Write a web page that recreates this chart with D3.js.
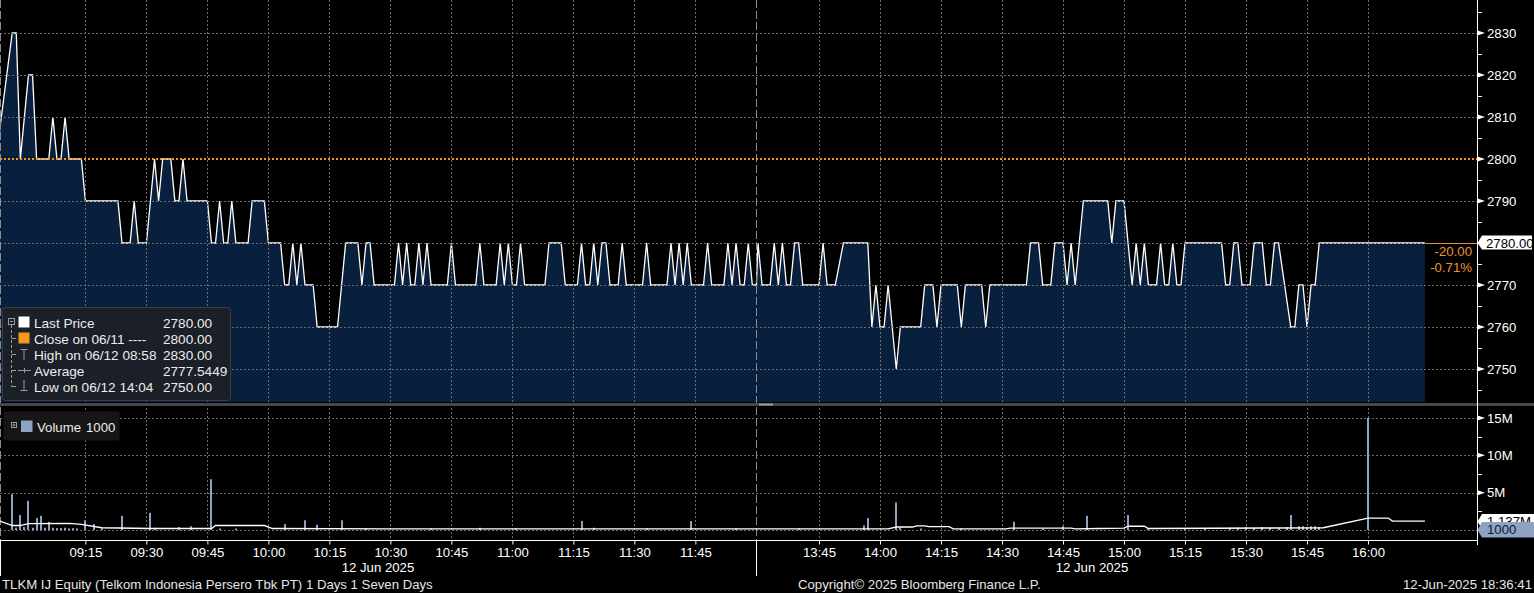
<!DOCTYPE html>
<html><head><meta charset="utf-8">
<script src="https://cdn.jsdelivr.net/npm/d3@7"></script>
<style>html,body{margin:0;padding:0;background:#000;overflow:hidden}svg{display:block}</style>
</head><body><script>
// ---------------- DATA ----------------
const priceTimes = ["08:53","08:57","08:58","08:59","09:01","09:02","09:03","09:06","09:07","09:08","09:09","09:10","09:11","09:14","09:15","09:23","09:24","09:26","09:27","09:28","09:30","09:32","09:33","09:34","09:36","09:37","09:38","09:39","09:40","09:45","09:46","09:47","09:48","09:49","09:50","09:51","09:52","09:55","09:56","09:59","10:00","10:03","10:04","10:05","10:06","10:07","10:08","10:09","10:11","10:12","10:17","10:19","10:22","10:23","10:24","10:25","10:26","10:31","10:32","10:33","10:34","10:35","10:36","10:37","10:38","10:39","10:40","10:44","10:45","10:46","10:51","10:52","10:53","10:56","10:57","10:58","10:59","11:00","11:01","11:02","11:03","11:08","11:09","11:12","11:13","11:16","11:17","11:18","11:19","11:20","11:21","11:22","11:23","11:24","11:26","11:27","11:28","11:32","11:33","11:34","11:38","11:39","11:40","11:41","11:42","11:43","11:44","11:47","11:48","11:49","11:52","11:53","11:54","11:55","11:56","11:57","11:58","11:59","12:00","13:30","13:31","13:33","13:34","13:35","13:36","13:37","13:38","13:39","13:40","13:41","13:45","13:46","13:47","13:49","13:51","13:57","13:58","13:59","14:00","14:01","14:02","14:04","14:05","14:10","14:11","14:13","14:14","14:15","14:19","14:20","14:21","14:25","14:26","14:27","14:36","14:37","14:39","14:40","14:42","14:43","14:45","14:46","14:47","14:48","14:50","14:56","14:57","14:58","15:00","15:02","15:03","15:04","15:05","15:06","15:08","15:09","15:10","15:11","15:12","15:13","15:14","15:15","15:24","15:25","15:26","15:27","15:28","15:29","15:31","15:32","15:34","15:35","15:36","15:37","15:38","15:41","15:42","15:43","15:44","15:45","15:46","15:47","15:48","16:14"];
const priceValues = [2800,2830,2830,2800,2820,2820,2800,2800,2810,2800,2800,2810,2800,2800,2790,2790,2780,2780,2790,2780,2780,2800,2790,2800,2800,2790,2790,2800,2790,2790,2780,2780,2790,2780,2780,2790,2780,2780,2790,2790,2780,2780,2770,2770,2780,2770,2780,2770,2770,2760,2760,2780,2780,2770,2780,2780,2770,2770,2780,2770,2780,2770,2770,2780,2770,2780,2770,2770,2780,2770,2770,2780,2770,2770,2780,2770,2780,2770,2770,2780,2770,2770,2780,2780,2770,2770,2780,2770,2770,2780,2770,2780,2780,2770,2770,2780,2770,2770,2780,2770,2770,2780,2770,2780,2770,2780,2770,2770,2780,2770,2770,2780,2770,2780,2770,2770,2780,2770,2770,2780,2770,2770,2780,2770,2780,2770,2770,2780,2780,2770,2770,2780,2770,2770,2780,2780,2760,2770,2760,2760,2770,2750,2760,2760,2770,2770,2760,2770,2770,2760,2770,2770,2760,2770,2770,2780,2780,2770,2770,2780,2780,2770,2780,2770,2790,2790,2780,2790,2790,2770,2780,2770,2780,2770,2770,2780,2770,2770,2780,2770,2770,2780,2780,2770,2770,2780,2780,2770,2770,2780,2780,2770,2770,2780,2780,2760,2760,2770,2770,2760,2770,2770,2780,2780];

const volTimes = ["08:57","08:58","08:59","09:00","09:01","09:02","09:03","09:04","09:05","09:06","09:07","09:08","09:09","09:10","09:11","09:12","09:13","09:15","09:17","09:19","09:24","09:31","09:32","09:38","09:41","09:46","09:48","09:52","10:04","10:09","10:12","10:18","10:24","10:40","10:52","11:01","11:17","11:20","11:33","11:44","11:55","13:40","13:56","13:57","14:04","14:05","14:10","14:20","14:33","14:40","14:45","14:51","15:01","15:06","15:15","15:20","15:26","15:28","15:30","15:32","15:34","15:36","15:38","15:40","15:41","15:43","15:44","15:45","15:46","15:47","15:48","16:00"];
const volValues = [4.8e6,0.3e6,2.0e6,0.4e6,3.9e6,0.3e6,1.6e6,1.9e6,0.3e6,1.1e6,0.3e6,0.25e6,0.25e6,0.3e6,0.2e6,0.25e6,0.2e6,1.3e6,0.8e6,0.2e6,1.9e6,2.3e6,0.3e6,0.4e6,0.5e6,6.8e6,0.2e6,0.2e6,0.8e6,1.3e6,0.7e6,1.3e6,0.2e6,0.2e6,0.3e6,0.2e6,1.2e6,0.3e6,0.2e6,1.2e6,0.2e6,0.2e6,0.6e6,1.6e6,3.7e6,0.3e6,0.2e6,0.2e6,1.1e6,0.2e6,0.5e6,1.9e6,2.0e6,0.2e6,0.2e6,0.2e6,0.3e6,0.3e6,0.4e6,0.3e6,0.4e6,0.3e6,0.3e6,0.4e6,2.0e6,0.5e6,0.5e6,0.4e6,0.5e6,0.5e6,0.4e6,15.0e6];

const avgTimes = ["08:54","08:57","08:59","09:01","09:11","09:14","09:19","09:31","09:46","09:47","09:59","10:01","10:30","12:00","13:30","14:02","14:04","14:08","14:09","14:11","14:12","14:17","14:18","14:31","14:32","14:47","14:48","14:54","15:00","15:01","15:05","15:06","15:49","16:00","16:05","16:06","16:14"];
const avgValues = [1.2e6,0.6e6,0.6e6,0.85e6,0.9e6,0.75e6,0.3e6,0.2e6,0.2e6,0.6e6,0.6e6,0.2e6,0.15e6,0.15e6,0.15e6,0.15e6,0.4e6,0.4e6,0.55e6,0.55e6,0.45e6,0.45e6,0.15e6,0.15e6,0.25e6,0.25e6,0.15e6,0.2e6,0.25e6,0.5e6,0.5e6,0.2e6,0.3e6,1.6e6,1.6e6,1.2e6,1.2e6];

const tickTimes = ["09:15","09:30","09:45","10:00","10:15","10:30","10:45","11:00","11:15","11:30","11:45","13:45","14:00","14:15","14:30","14:45","15:00","15:15","15:30","15:45","16:00"];
const priceTicks = [2750,2760,2770,2790,2800,2810,2820,2830];
const priceGrid = [2750,2760,2770,2780,2790,2800,2810,2820,2830];
const priceMinor = [2745,2755,2765,2775,2785,2795,2805,2815,2825,2835];
const volTicks = [5e6,10e6,15e6];
const volTickLabels = ["5M","10M","15M"];
const volGrid = [0,5e6,10e6,15e6];
const volMinor = [2.5e6,7.5e6,12.5e6];
const prevClose = 2800;
const lastPrice = 2780;
const lastAvgVolume = 1.137e6;
const lastVolume = 1000;
const legendLabels = ["Last Price","Close on 06/11 ----","High on 06/12 08:58","Average","Low on 06/12 14:04"];
const legendValues = ["2780.00","2800.00","2830.00","2777.5449","2750.00"];

// ---------------- CHART ----------------
const W = 1534, H = 593, R = 1477;
const FONT = "'Liberation Sans', Arial, sans-serif";
const FS = 13.2, LFS = 13.6;
const toMin = s => { const [h, m] = s.split(":").map(Number); return h * 60 + m; };
const K = 61 / 15;
const x = d3.scaleLinear()
  .domain([toMin("08:54"), toMin("12:00"), toMin("13:30"), toMin("16:14")])
  .range([0, 186 * K, 758, 758 + 164 * K]);
const yP = d3.scaleLinear().domain([2750, 2830]).range([369, 33]);
const yV = d3.scaleLinear().domain([0, 15e6]).range([530, 418]);
const fmt2 = v => d3.format(".2f")(v).replace("\u2212", "-");

const svg = d3.select("body").append("svg").attr("width", W).attr("height", H)
  .style("font-family", FONT);
svg.append("rect").attr("width", W).attr("height", H).attr("fill", "#000");
const defs = svg.append("defs");
defs.append("clipPath").attr("id", "cp").append("rect").attr("x", 0).attr("y", 0).attr("width", R).attr("height", 402);
defs.append("clipPath").attr("id", "cv").append("rect").attr("x", 0).attr("y", 406).attr("width", R).attr("height", 134);
defs.append("clipPath").attr("id", "cl").append("rect").attr("x", R).attr("y", 500).attr("width", 60).attr("height", 22);

const pts = priceTimes.map((t, i) => ({ t: toMin(t), v: priceValues[i] }));
const gP = svg.append("g").attr("clip-path", "url(#cp)");
gP.append("path").datum(pts)
  .attr("d", d3.area().x(d => x(d.t)).y0(402).y1(d => yP(d.v)))
  .attr("fill", "#081f3e");

const GRID = "#6c6c6c";
const gridG = svg.append("g").attr("stroke", GRID).attr("stroke-width", 1).attr("stroke-dasharray", "2,2").attr("shape-rendering", "crispEdges");
priceGrid.filter(v => v !== prevClose).forEach(v => {
  const yy = Math.round(yP(v)) + 0.5;
  gridG.append("line").attr("x1", 0).attr("x2", R).attr("y1", yy).attr("y2", yy);
});
volGrid.forEach(v => {
  const yy = Math.round(yV(v)) + 0.5;
  gridG.append("line").attr("x1", 0).attr("x2", R).attr("y1", yy).attr("y2", yy);
});
tickTimes.forEach(t => {
  const xx = Math.round(x(toMin(t))) + 0.5;
  gridG.append("line").attr("x1", xx).attr("x2", xx).attr("y1", 0).attr("y2", 540);
});
[Math.round(x(toMin("12:00"))) + 0.5, 0.5].forEach(xx => {
  svg.append("line").attr("x1", xx).attr("x2", xx).attr("y1", 0).attr("y2", 540)
    .attr("stroke", "#8c8c8c").attr("stroke-dasharray", "8,3").attr("shape-rendering", "crispEdges");
});

svg.append("line").attr("x1", 0).attr("x2", R).attr("y1", yP(prevClose)).attr("y2", yP(prevClose))
  .attr("stroke", "#f7941d").attr("stroke-width", 2).attr("stroke-dasharray", "2,2");

gP.append("path").datum(pts)
  .attr("d", d3.line().x(d => x(d.t)).y(d => yP(d.v)))
  .attr("fill", "none").attr("stroke", "#ffffff").attr("stroke-width", 1.3);

const lastX = x(toMin(priceTimes[priceTimes.length - 1]));
svg.append("line").attr("x1", lastX).attr("x2", R).attr("y1", Math.round(yP(lastPrice)) + 0.5).attr("y2", Math.round(yP(lastPrice)) + 0.5)
  .attr("stroke", "#e8922c").attr("stroke-width", 1);

const gV = svg.append("g").attr("clip-path", "url(#cv)");
gV.selectAll("rect.vb").data(volTimes.map((t, i) => ({ t: toMin(t), v: volValues[i] }))).enter()
  .append("rect").attr("class", "vb")
  .attr("x", d => Math.round(x(d.t)) - 1).attr("width", 2)
  .attr("y", d => yV(d.v)).attr("height", d => yV(0) - yV(d.v))
  .attr("fill", "#8ea2c2");
gV.append("path").datum(avgTimes.map((t, i) => ({ t: toMin(t), v: avgValues[i] })))
  .attr("d", d3.line().x(d => x(d.t)).y(d => yV(d.v)))
  .attr("fill", "none").attr("stroke", "#ffffff").attr("stroke-width", 1.3);

svg.append("rect").attr("x", 0).attr("y", 403).attr("width", W).attr("height", 3).attr("fill", "#474747");
svg.append("rect").attr("x", 759).attr("y", 403.5).attr("width", 14).attr("height", 2).attr("fill", "#9a9a9a");

svg.append("line").attr("x1", R + 0.5).attr("x2", R + 0.5).attr("y1", 0).attr("y2", 545).attr("stroke", "#fff").attr("shape-rendering", "crispEdges");

function styleAxis(g) {
  g.select(".domain").remove();
  g.selectAll("text").attr("fill", "#fff").attr("font-size", FS).attr("font-family", FONT);
  g.selectAll("line").attr("stroke", "#fff");
}
const ayP = svg.append("g").attr("transform", `translate(${R},0)`)
  .call(d3.axisRight(yP).tickValues(priceTicks).tickSize(0).tickPadding(10).tickFormat(d3.format("d")));
styleAxis(ayP);
priceTicks.forEach(v => {
  const yy = yP(v);
  svg.append("path").attr("d", `M${R + 0.5},${yy - 2.5}L${R + 8},${yy}L${R + 0.5},${yy + 2.5}Z`).attr("fill", "#fff");
});
priceMinor.forEach(v => {
  const yy = Math.round(yP(v)) + 0.5;
  svg.append("line").attr("x1", R).attr("x2", R + 5).attr("y1", yy).attr("y2", yy).attr("stroke", "#fff").attr("shape-rendering", "crispEdges");
});
const ayV = svg.append("g").attr("transform", `translate(${R},0)`)
  .call(d3.axisRight(yV).tickValues(volTicks).tickSize(0).tickPadding(10).tickFormat((d, i) => volTickLabels[i]));
styleAxis(ayV);
volTicks.forEach(v => {
  const yy = yV(v);
  svg.append("path").attr("d", `M${R + 0.5},${yy - 2.5}L${R + 8},${yy}L${R + 0.5},${yy + 2.5}Z`).attr("fill", "#fff");
});
volMinor.forEach(v => {
  const yy = Math.round(yV(v)) + 0.5;
  svg.append("line").attr("x1", R).attr("x2", R + 5).attr("y1", yy).attr("y2", yy).attr("stroke", "#fff").attr("shape-rendering", "crispEdges");
});

{
  const yy = yP(lastPrice);
  svg.append("path").attr("d", `M${R + 0.5},${yy}L${R + 5},${yy - 7.5}L1532,${yy - 7.5}L1532,${yy + 6.5}L${R + 5},${yy + 6.5}Z`).attr("fill", "#fff");
  svg.append("text").attr("x", 1486).attr("y", yy + 4.5).attr("font-size", FS).attr("fill", "#000").text(fmt2(lastPrice));
  svg.append("text").attr("x", 1472).attr("y", 256).attr("text-anchor", "end").attr("font-size", FS).attr("fill", "#f0922b")
    .text(fmt2(lastPrice - prevClose));
  svg.append("text").attr("x", 1472).attr("y", 272).attr("text-anchor", "end").attr("font-size", FS).attr("fill", "#f0922b")
    .text(fmt2((lastPrice - prevClose) / prevClose * 100) + "%");
}
{
  const ya = yV(lastAvgVolume);
  svg.append("path").attr("d", `M${R + 0.5},${ya}L${R + 5},${ya - 7.5}L${W},${ya - 7.5}L${W},${ya + 7.5}L${R + 5},${ya + 7.5}Z`).attr("fill", "#fff");
  svg.append("text").attr("x", 1487).attr("y", ya + 4.5).attr("font-size", FS).attr("fill", "#000")
    .attr("clip-path", "url(#cl)").text(d3.format(".4s")(lastAvgVolume).replace(/0+M$/, "M"));
  const yl = yV(lastVolume);
  svg.append("path").attr("d", `M${R + 0.5},${yl}L${R + 5},${yl - 8}L${W},${yl - 8}L${W},${yl + 7.5}L${R + 5},${yl + 7.5}Z`).attr("fill", "#8ea2c2");
  svg.append("text").attr("x", 1487).attr("y", yl + 4.5).attr("font-size", FS).attr("fill", "#0d1b33").text(lastVolume);
}

svg.append("line").attr("x1", 0).attr("x2", R + 1).attr("y1", 540.5).attr("y2", 540.5).attr("stroke", "#fff");
const ax = svg.append("g").attr("transform", "translate(0,540.5)")
  .call(d3.axisBottom(x).tickValues(tickTimes.map(toMin)).tickSize(4).tickPadding(3).tickFormat((d, i) => tickTimes[i]));
styleAxis(ax);
[0.5, Math.round(x(toMin("12:00"))) + 0.5].forEach(xx => {
  svg.append("line").attr("x1", xx).attr("x2", xx).attr("y1", 540).attr("y2", 576).attr("stroke", "#fff");
});
svg.append("text").attr("x", 378).attr("y", 572).attr("text-anchor", "middle").attr("font-size", FS).attr("fill", "#fff").text("12 Jun 2025");
svg.append("text").attr("x", 1092).attr("y", 572).attr("text-anchor", "middle").attr("font-size", FS).attr("fill", "#fff").text("12 Jun 2025");

svg.append("text").attr("x", 2).attr("y", 589).attr("font-size", FS).attr("fill", "#e6e6e6").text("TLKM IJ Equity (Telkom Indonesia Persero Tbk PT) 1 Days 1 Seven Days");
svg.append("text").attr("x", 798).attr("y", 589).attr("font-size", FS).attr("fill", "#e6e6e6").text("Copyright\u00a9 2025 Bloomberg Finance L.P.");
svg.append("text").attr("x", 1532).attr("y", 589).attr("text-anchor", "end").attr("font-size", FS).attr("fill", "#e6e6e6").text("12-Jun-2025 18:36:41");

{
  const g = svg.append("g");
  g.append("rect").attr("x", 2.5).attr("y", 307.5).attr("width", 228).attr("height", 93).attr("rx", 3)
    .attr("fill", "#1b1f27").attr("stroke", "#3a3e46");
  const TC = "#9a9a9a";
  g.append("rect").attr("x", 8.5).attr("y", 318.5).attr("width", 6).attr("height", 6).attr("fill", "none").attr("stroke", TC);
  g.append("line").attr("x1", 10).attr("x2", 13).attr("y1", 321.5).attr("y2", 321.5).attr("stroke", TC);
  g.append("line").attr("x1", 11.5).attr("x2", 11.5).attr("y1", 325).attr("y2", 386.5).attr("stroke", TC).attr("stroke-dasharray", "3,2");
  legendLabels.forEach((lab, i) => {
    const cy = 322 + i * 16;
    if (i > 0) g.append("line").attr("x1", 11.5).attr("x2", 16).attr("y1", cy + 0.5).attr("y2", cy + 0.5).attr("stroke", TC);
    g.append("text").attr("x", 34).attr("y", cy + 5.5).attr("font-size", LFS).attr("fill", "#ececec").text(lab);
    g.append("text").attr("x", 163).attr("y", cy + 5.5).attr("font-size", LFS).attr("fill", "#ececec").text(legendValues[i]);
  });
  g.append("rect").attr("x", 18.5).attr("y", 316.5).attr("width", 11).attr("height", 11).attr("fill", "#fff");
  g.append("rect").attr("x", 18.5).attr("y", 332.5).attr("width", 11).attr("height", 11).attr("fill", "#f39a1c");
  g.append("path").attr("d", "M20.5,349.5H27.5M24,349.5V360").attr("stroke", TC).attr("fill", "none");
  g.append("path").attr("d", "M18,370.5H31M24.5,368V373").attr("stroke", TC).attr("fill", "none");
  g.append("path").attr("d", "M20.5,390.5H27.5M24,380V390.5").attr("stroke", TC).attr("fill", "none");
}
{
  const g = svg.append("g");
  g.append("rect").attr("x", 3.5).attr("y", 411.5).attr("width", 116).attr("height", 29).attr("rx", 2).attr("fill", "#161616");
  const TC = "#9a9a9a";
  g.append("rect").attr("x", 11.5).attr("y", 422.5).attr("width", 5).attr("height", 5).attr("fill", "none").attr("stroke", TC);
  g.append("path").attr("d", "M12.5,425H15.5M14,423.5V426.5").attr("stroke", TC);
  g.append("rect").attr("x", 21).attr("y", 420.5).attr("width", 11.5).attr("height", 11.5).attr("fill", "#8ea2c2");
  g.append("text").attr("x", 37).attr("y", 431.5).attr("font-size", 13.2).attr("fill", "#ececec").text("Volume");
  g.append("text").attr("x", 86).attr("y", 431.5).attr("font-size", 13.2).attr("fill", "#ececec").text("1000");
}
</script></body></html>
